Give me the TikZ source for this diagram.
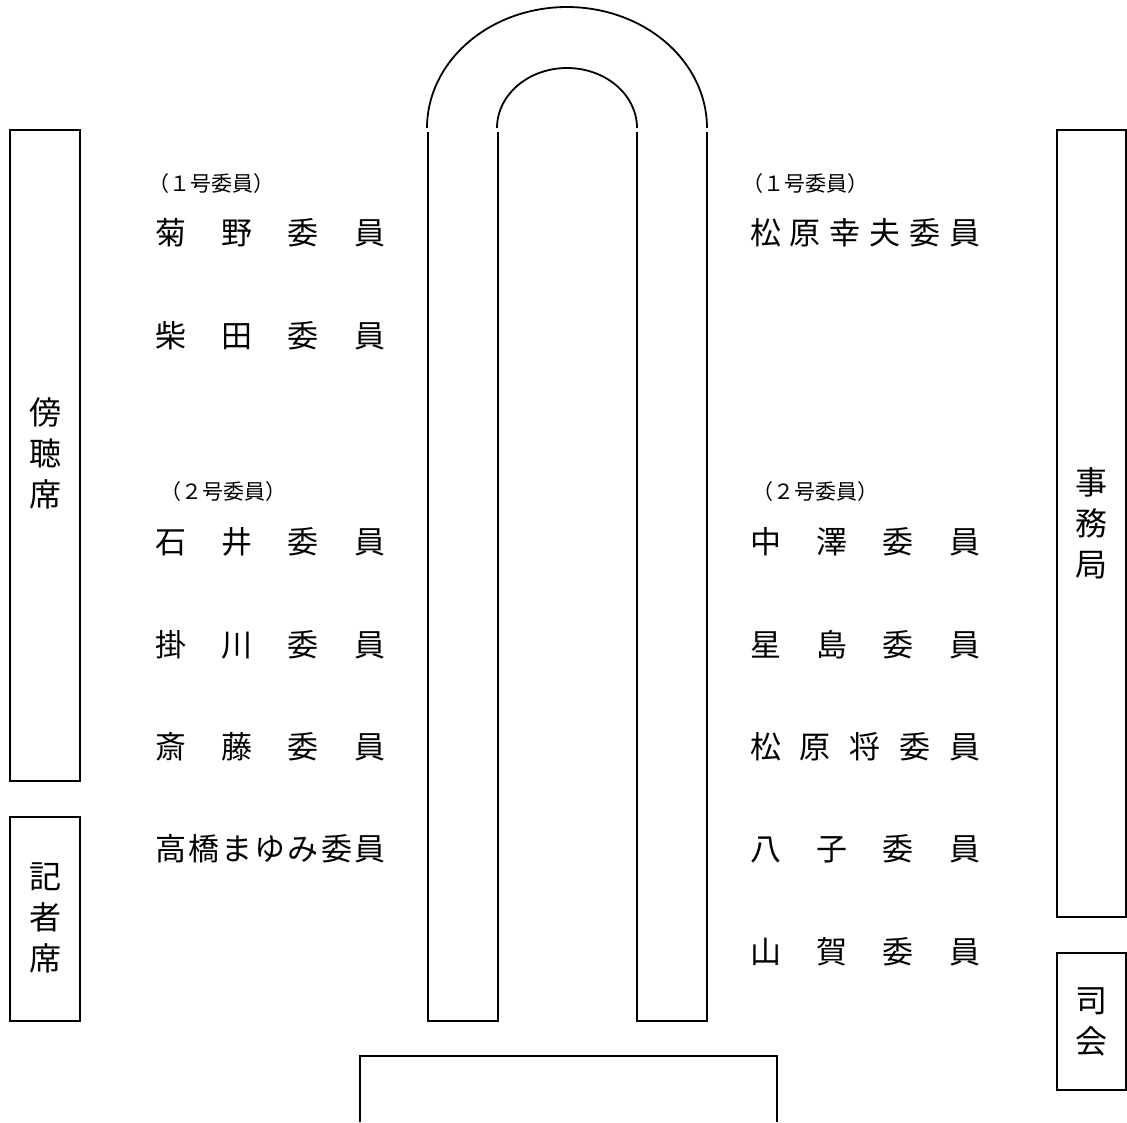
\documentclass[tikz,border=0pt]{standalone}
\usepackage{fontspec}
\newfontfamily\jp{Noto Sans CJK JP}
\begin{document}
\begin{tikzpicture}[x=1pt,y=-1pt,
  wall/.style={line width=1.8pt},
  seat/.style={anchor=west, inner sep=0pt, font=\jp\fontsize{31}{31}\selectfont, text height=27pt, text depth=4pt},
  grp/.style={anchor=west, inner sep=0pt, font=\jp\fontsize{21}{21}\selectfont, text height=18.5pt, text depth=2.5pt},
  boxlabel/.style={align=center, inner sep=0pt, font=\jp\fontsize{32}{41}\selectfont}]
\useasboundingbox (0,0) rectangle (1127,1122);
% table (U shape)
\draw[wall] plot[domain=180:0, samples=90] ({567+140*cos(\x)}, {128-121*sin(\x)});
\draw[wall] plot[domain=180:0, samples=90] ({567+70*cos(\x)}, {128-60*sin(\x)});
\draw[wall] (428,132) -- (428,1021) -- (498,1021) -- (498,132);
\draw[wall] (637,132) -- (637,1021) -- (707,1021) -- (707,132);
% bottom table
\draw[wall] (360,1122) -- (360,1056) -- (777,1056) -- (777,1122);
% side boxes
\draw[wall] (10,130) rectangle (80,781);
\draw[wall] (10,817) rectangle (80,1021);
\draw[wall] (1057,130) rectangle (1126,917);
\draw[wall] (1057,953) rectangle (1126,1090);
\node[boxlabel] (boc) at (45,453) {傍\\聴\\席};
\node[boxlabel] (kis) at (45,918) {記\\者\\席};
\node[boxlabel] (jim) at (1091,523) {事\\務\\局};
\node[boxlabel] (shi) at (1091,1022) {司\\会};
% group labels
\node[grp] (g1l) at (148,183) {（１号委員）};
\node[grp] (g2l) at (160,491) {（２号委員）};
\node[grp] (g1r) at (742,183) {（１号委員）};
\node[grp] (g2r) at (752,491) {（２号委員）};
% left members
\node[seat] (l1) at (155,233) {\makebox[230pt]{菊\hfill 野\hfill 委\hfill 員}};
\node[seat] (l2) at (155,336) {\makebox[230pt]{柴\hfill 田\hfill 委\hfill 員}};
\node[seat] (l3) at (155,542) {\makebox[230pt]{石\hfill 井\hfill 委\hfill 員}};
\node[seat] (l4) at (155,645) {\makebox[230pt]{掛\hfill 川\hfill 委\hfill 員}};
\node[seat] (l5) at (155,747) {\makebox[230pt]{斎\hfill 藤\hfill 委\hfill 員}};
\node[seat] (l6) at (155,849) {\makebox[230pt]{高\hfill 橋\hfill ま\hfill ゆ\hfill み\hfill 委\hfill 員}};
% right members
\node[seat] (r1) at (750,233) {\makebox[230pt]{松\hfill 原\hfill 幸\hfill 夫\hfill 委\hfill 員}};
\node[seat] (r2) at (750,542) {\makebox[230pt]{中\hfill 澤\hfill 委\hfill 員}};
\node[seat] (r3) at (750,645) {\makebox[230pt]{星\hfill 島\hfill 委\hfill 員}};
\node[seat] (r4) at (750,747) {\makebox[230pt]{松\hfill 原\hfill 将\hfill 委\hfill 員}};
\node[seat] (r5) at (750,849) {\makebox[230pt]{八\hfill 子\hfill 委\hfill 員}};
\node[seat] (r6) at (750,952) {\makebox[230pt]{山\hfill 賀\hfill 委\hfill 員}};
\end{tikzpicture}
\end{document}
